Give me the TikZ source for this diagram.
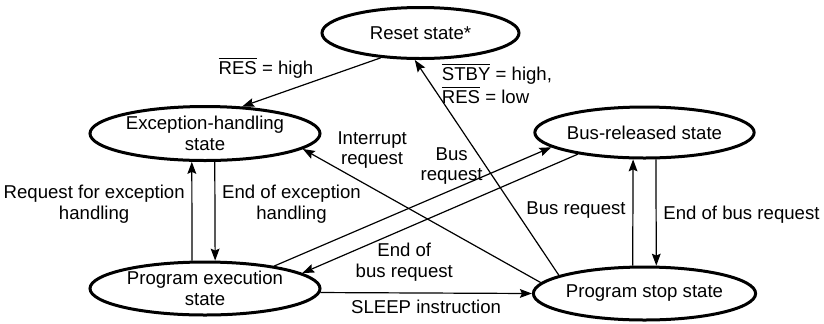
\documentclass[tikz,border=0pt]{standalone}
\usepackage{fontspec}
\setmainfont{Liberation Sans}
\usetikzlibrary{arrows.meta,shapes.geometric}
\newcommand\negsig[1]{$\overline{\mbox{#1}}$}

\begin{document}
\begin{tikzpicture}[x=0.5pt,y=-0.5pt,->,>={Stealth[length=6pt,width=4.4pt,inset=1pt]},line width=0.6pt,
  font=\fontsize{9.3}{10.2}\selectfont]
  \tikzstyle{mode}=[ellipse,draw=black,line width=1.5pt,inner sep=0pt,text=black,align=center]
\useasboundingbox (0,0) rectangle (824,323);
\node[mode,minimum width=98.5pt,minimum height=25.5pt] (rst) at (420.5,33) {Reset state*};
\node[mode,minimum width=115pt,minimum height=27pt] (exc) at (205,133.5) {Exception-handling\\state};
\node[mode,minimum width=115pt,minimum height=26.5pt] (exe) [below of=exc, node distance=77.5pt] {Program execution\\state};
\node[mode,minimum width=108.5pt,minimum height=25.5pt] (bus) at (644.5,132.5) {Bus-released state};
\node[mode,minimum width=108.5pt,minimum height=26.5pt] (stp) [below of=bus, node distance=80.5pt] {Program stop state};
\path
(rst.212) edge node[above left,xshift=4.5pt,yshift=-1.5pt] {\negsig{RES} = high} (exc.36.6)
(stp.168) edge node[pos=0.89,right,align=left,xshift=2pt] {\negsig{STBY} = high,\\\negsig{RES} = low} (rst.258)
(stp.174) edge node[pos=0.83,above right,xshift=-6.5pt,yshift=-2pt,align=center] {Interrupt\\request} (exc.351)
(exe.18) edge node[pos=0.64,above,yshift=-1pt,align=center] {Bus\\request} (bus.189)
(bus.198) edge node[pos=0.63,below,yshift=-3.5pt,align=center] {End of\\bus request} (exe.9)
(exe.-2) edge node[below] {SLEEP instruction} (stp.west)
(exe.115) edge node[pos=0.57,left,align=center] {Request for exception\\handling} (exc.245)
(exc.289.5) edge node[pos=0.43,right,align=center] {End of exception\\handling} (exe.70.5)
(stp.113) edge node[pos=0.52,left] {Bus request} (bus.247)
(bus.293) edge node[pos=0.52,right] {End of bus request} (stp.67);
\end{tikzpicture}
\end{document}
